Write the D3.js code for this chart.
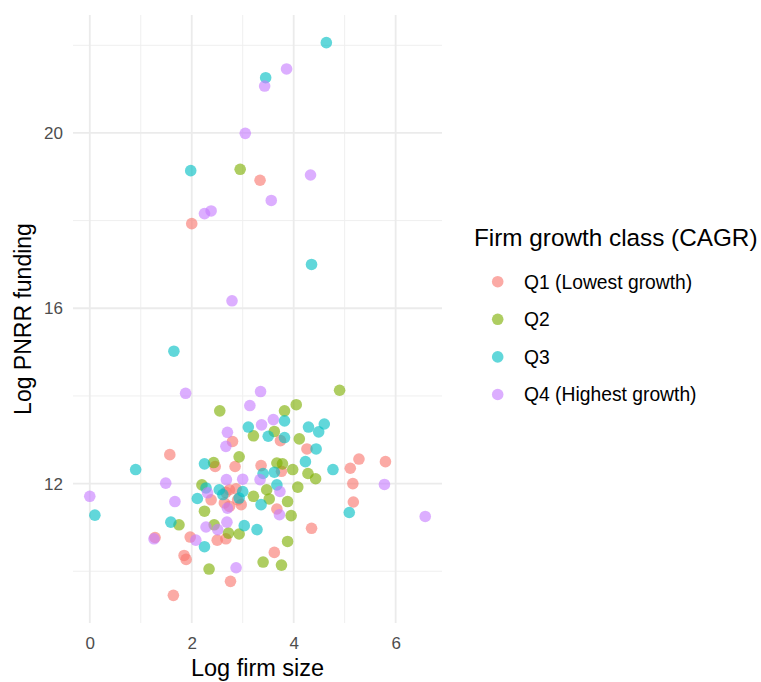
<!DOCTYPE html>
<html>
<head>
<meta charset="utf-8">
<script src="https://cdn.jsdelivr.net/npm/d3@7"></script>
<style>
  body { margin: 0; background: #fff; }
  text { font-family: "Liberation Sans", Arial, Helvetica, sans-serif; }
</style>
</head>
<body>
<div id="chart"></div>
<script>
// Firm growth classes and their colours (ggplot hue palette)
const classes = ["Q1 (Lowest growth)", "Q2", "Q3", "Q4 (Highest growth)"];
const colors = ["#F8766D", "#7CAE00", "#00BFC4", "#C77CFF"];

// [log firm size, log PNRR funding]
const q1 = [
    [3.34, 18.92], [2.00, 17.93], [2.80, 12.96], [3.74, 12.98], [4.26, 12.79], [5.28, 12.56],
    [5.11, 12.35], [5.80, 12.50], [5.16, 12.00], [5.17, 11.58], [3.36, 12.41], [3.76, 12.28],
    [3.67, 11.42], [4.35, 10.98], [3.62, 10.43], [1.57, 12.66], [2.46, 12.39], [2.85, 12.39],
    [2.74, 11.86], [2.87, 11.88], [2.38, 11.63], [2.74, 11.48], [2.64, 11.56], [2.97, 11.52],
    [2.90, 11.63], [2.67, 11.80], [1.28, 10.77], [1.85, 10.36], [1.89, 10.27], [1.64, 9.45],
    [1.97, 10.78], [2.50, 10.71], [2.67, 10.74], [2.76, 9.77]
];
const q2 = [
    [2.95, 19.17], [4.90, 14.13], [2.55, 13.66], [4.05, 13.80], [3.82, 13.66], [3.21, 13.09],
    [3.62, 13.19], [4.11, 13.02], [3.67, 12.47], [3.78, 12.45], [3.98, 12.32], [4.28, 12.23],
    [4.43, 12.11], [4.08, 11.92], [3.47, 11.86], [3.52, 11.65], [3.21, 11.71], [3.88, 11.59],
    [3.95, 11.27], [3.88, 10.68], [3.76, 10.14], [3.40, 10.21], [2.93, 12.61], [2.43, 12.48],
    [2.20, 11.97], [2.25, 11.37], [2.44, 11.06], [2.72, 10.87], [2.93, 10.85], [2.34, 10.05],
    [1.75, 11.06]
];
const q3 = [
    [4.64, 22.06], [3.45, 21.26], [1.98, 19.14], [4.35, 17.00], [1.65, 15.02], [3.11, 13.29],
    [3.50, 13.08], [3.82, 13.43], [3.82, 13.05], [4.29, 13.29], [4.60, 13.36], [4.49, 13.18],
    [4.44, 12.79], [4.23, 12.50], [4.77, 12.32], [5.09, 11.34], [3.40, 12.23], [3.62, 12.26],
    [3.67, 11.97], [3.36, 11.52], [0.10, 11.28], [1.59, 11.12], [2.25, 10.56], [3.03, 11.04],
    [3.28, 10.95], [0.90, 12.32], [2.25, 12.45], [2.28, 11.90], [2.11, 11.66], [2.54, 11.86],
    [2.61, 11.75], [3.00, 11.82], [2.93, 11.67]
];
const q4 = [
    [3.86, 21.46], [3.43, 21.07], [3.05, 19.99], [4.33, 19.04], [3.56, 18.46], [2.38, 18.22],
    [2.25, 18.16], [2.79, 16.17], [1.88, 14.06], [3.35, 14.10], [3.14, 13.78], [3.37, 13.34],
    [3.60, 13.46], [2.70, 13.17], [2.67, 12.85], [5.78, 11.98], [6.58, 11.25], [3.34, 12.09],
    [3.73, 11.82], [3.72, 11.29], [0.00, 11.71], [1.26, 10.74], [1.67, 11.59], [2.08, 10.71],
    [2.28, 11.01], [2.51, 10.95], [2.69, 11.12], [2.87, 10.08], [1.49, 12.01], [2.68, 12.09],
    [3.00, 12.10], [2.31, 11.79], [2.70, 11.44]
];
const seriesData = [q1, q2, q3, q4];

const xTicks = [0, 2, 4, 6];
const xMinor = [1, 3, 5];
const yTicks = [12, 16, 20];
const yMinor = [10, 14, 18, 22];

// Panel geometry
const width = 761, height = 682;
const panel = { left: 73, right: 442, top: 15, bottom: 623 };

// Flatten points with their class index
const points = seriesData.flatMap((pts, i) => pts.map(p => ({ x: p[0], y: p[1], cls: i })));

// ggplot style 5% expansion of the data range
function expand(ext) {
    const pad = (ext[1] - ext[0]) * 0.05;
    return [ext[0] - pad, ext[1] + pad];
}

const x = d3.scaleLinear()
    .domain(expand(d3.extent(points, d => d.x)))
    .range([panel.left, panel.right]);

const y = d3.scaleLinear()
    .domain(expand(d3.extent(points, d => d.y)))
    .range([panel.bottom, panel.top]);

const svg = d3.select("#chart")
    .append("svg")
    .attr("width", width)
    .attr("height", height);

// Grid lines (minor first, then major)
const grid = svg.append("g");
grid.selectAll("line.xminor").data(xMinor).join("line")
    .attr("x1", d => x(d)).attr("x2", d => x(d))
    .attr("y1", panel.top).attr("y2", panel.bottom)
    .attr("stroke", "#EFEFEF").attr("stroke-width", 1);
grid.selectAll("line.yminor").data(yMinor).join("line")
    .attr("y1", d => y(d)).attr("y2", d => y(d))
    .attr("x1", panel.left).attr("x2", panel.right)
    .attr("stroke", "#EFEFEF").attr("stroke-width", 1);
grid.selectAll("line.xmajor").data(xTicks).join("line")
    .attr("x1", d => x(d)).attr("x2", d => x(d))
    .attr("y1", panel.top).attr("y2", panel.bottom)
    .attr("stroke", "#EBEBEB").attr("stroke-width", 1.8);
grid.selectAll("line.ymajor").data(yTicks).join("line")
    .attr("y1", d => y(d)).attr("y2", d => y(d))
    .attr("x1", panel.left).attr("x2", panel.right)
    .attr("stroke", "#EBEBEB").attr("stroke-width", 1.8);

// Axes: labels only, no domain or tick marks
const xAxis = svg.append("g")
    .attr("transform", `translate(0, ${panel.bottom})`)
    .call(d3.axisBottom(x).tickValues(xTicks).tickSize(0).tickPadding(14));
const yAxis = svg.append("g")
    .attr("transform", `translate(${panel.left}, 0)`)
    .call(d3.axisLeft(y).tickValues(yTicks).tickSize(0).tickPadding(10));
[xAxis, yAxis].forEach(a => {
    a.select(".domain").remove();
    a.selectAll("text")
        .attr("fill", "#4D4D4D")
        .style("font-size", "17px")
        .style("font-family", "'Liberation Sans', Arial, sans-serif");
});

// Points
svg.append("g")
    .selectAll("circle")
    .data(points)
    .join("circle")
    .attr("cx", d => x(d.x))
    .attr("cy", d => y(d.y))
    .attr("r", 5.8)
    .attr("fill", d => colors[d.cls])
    .attr("fill-opacity", 0.62);

// Axis titles
svg.append("text")
    .attr("x", (panel.left + panel.right) / 2)
    .attr("y", 676)
    .attr("text-anchor", "middle")
    .style("font-size", "23.5px")
    .attr("fill", "#000")
    .text("Log firm size");

svg.append("text")
    .attr("transform", "rotate(-90)")
    .attr("x", -(panel.top + panel.bottom) / 2)
    .attr("y", 31)
    .attr("text-anchor", "middle")
    .style("font-size", "23px")
    .attr("fill", "#000")
    .text("Log PNRR funding");

// Legend
const legend = svg.append("g");
legend.append("text")
    .attr("x", 474)
    .attr("y", 246)
    .style("font-size", "24.3px")
    .attr("fill", "#000")
    .text("Firm growth class (CAGR)");

const items = legend.selectAll("g.item")
    .data(classes)
    .join("g")
    .attr("class", "item")
    .attr("transform", (d, i) => `translate(0, ${281.7 + i * 37.6})`);

items.append("circle")
    .attr("cx", 497.7)
    .attr("cy", 0)
    .attr("r", 5.8)
    .attr("fill", (d, i) => colors[i])
    .attr("fill-opacity", 0.62);

items.append("text")
    .attr("x", 524)
    .attr("y", 0)
    .attr("dy", "0.36em")
    .style("font-size", "19.3px")
    .attr("fill", "#000")
    .text(d => d);
</script>
</body>
</html>
